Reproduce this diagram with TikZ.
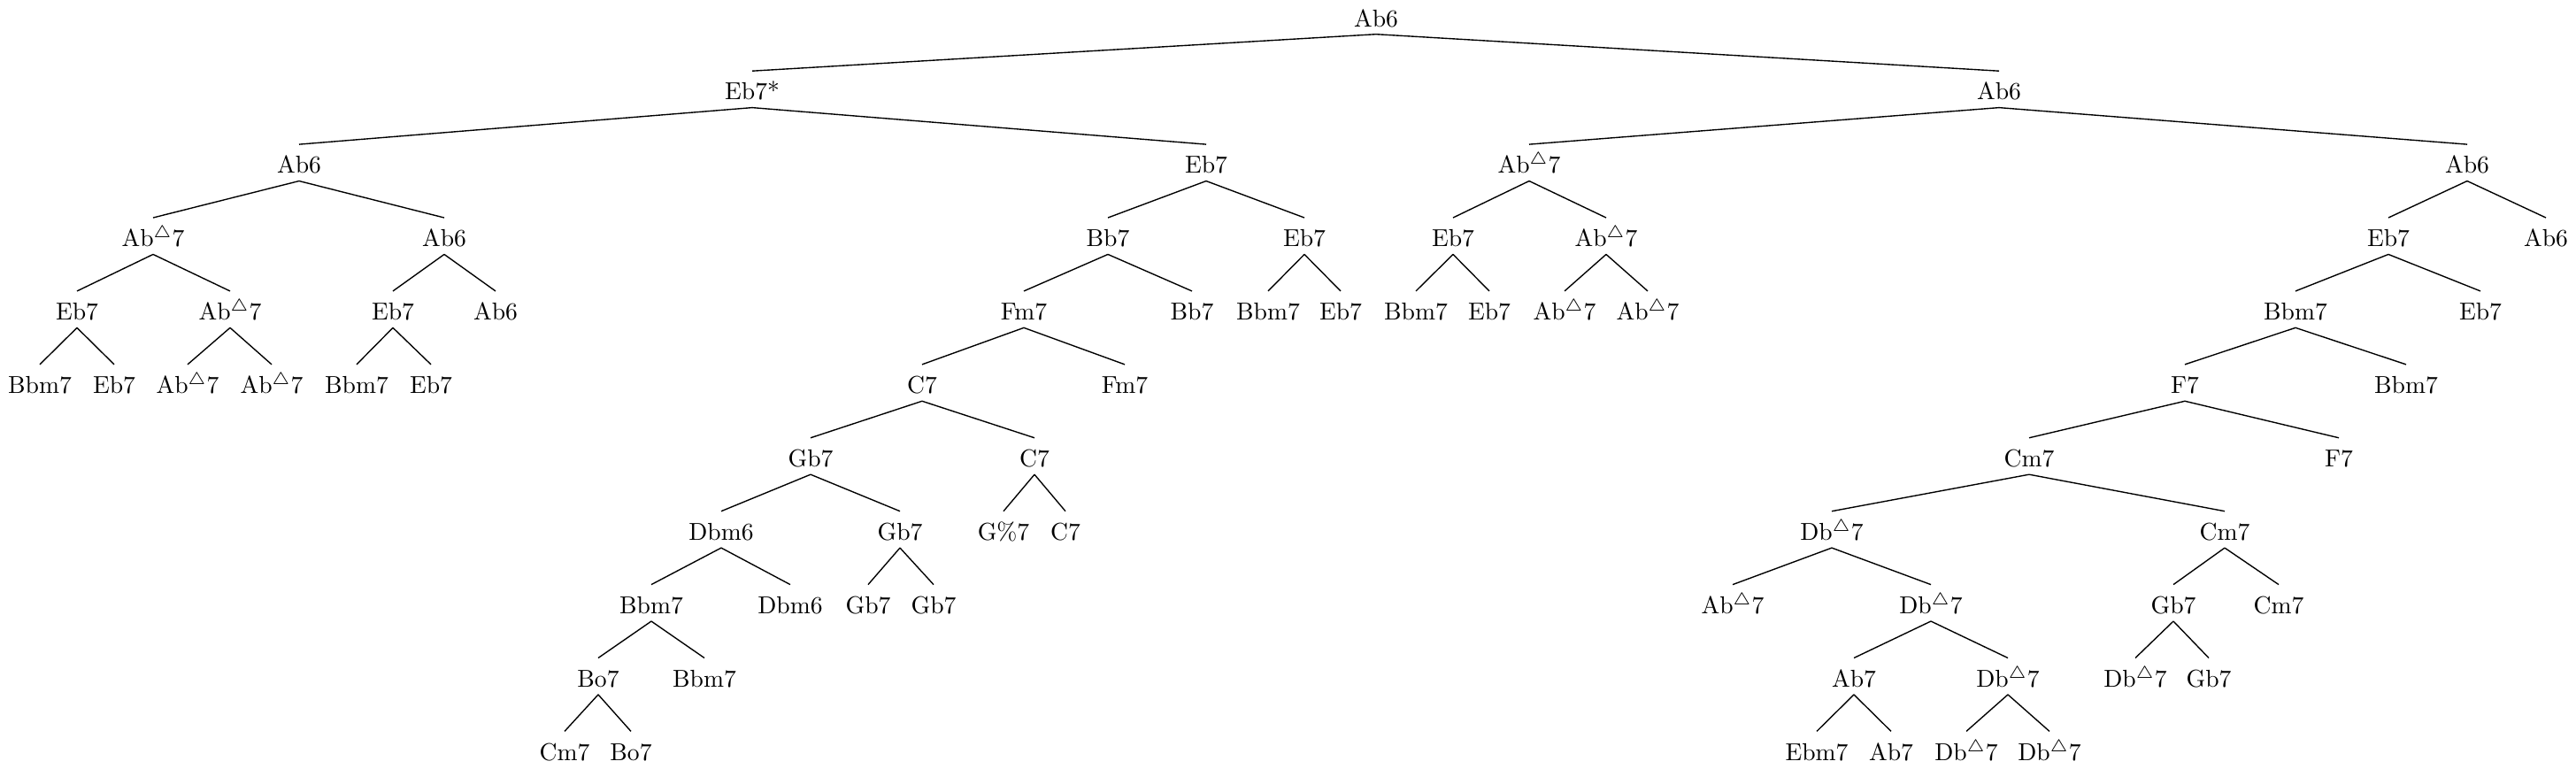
\documentclass[tikz,border=0pt]{standalone}
\usepackage{tikz}
\newcommand{\chmaj}{$^\triangle$}
\tikzset{chord/.style = {anchor=base, inner sep=0pt,
                         text height=11.6pt, text depth=2.9pt}}
\begin{document}
\begin{tikzpicture}[x=0.3623pt, y=-30.04pt, line width=0.5pt]
    \useasboundingbox (0,-0.362) rectangle (2911,10.108);
    \node [chord] (a1) at (1555,0) {Ab6};
    \foreach \nm/\up/\x/\lev/\lab in {
        b1/a1/850/1/Eb7*, b2/a1/2259/1/Ab6,
        c1/b1/338/2/Ab6, c2/b1/1363/2/Eb7, c3/b2/1728/2/Ab\chmaj7, c4/b2/2788/2/Ab6,
        d1/c1/173/3/Ab\chmaj7, d2/c1/502/3/Ab6, d3/c2/1252/3/Bb7, d4/c2/1474/3/Eb7,
        d5/c3/1642/3/Eb7, d6/c3/1815/3/Ab\chmaj7, d7/c4/2699/3/Eb7, d8/c4/2877/3/Ab6,
        e1/d1/87/4/Eb7, e2/d1/260/4/Ab\chmaj7, e3/d2/444/4/Eb7, e4/d2/560/4/Ab6,
        e5/d3/1157/4/Fm7, e6/d3/1347/4/Bb7, e7/d4/1433/4/Bbm7, e8/d4/1515/4/Eb7,
        e9/d5/1600/4/Bbm7, e10/d5/1683/4/Eb7, e11/d6/1768/4/Ab\chmaj7, e12/d6/1862/4/Ab\chmaj7,
        e13/d7/2594/4/Bbm7, e14/d7/2803/4/Eb7,
        f1/e1/45/5/Bbm7, f2/e1/129/5/Eb7, f3/e2/212/5/Ab\chmaj7, f4/e2/307/5/Ab\chmaj7,
        f5/e3/403/5/Bbm7, f6/e3/487/5/Eb7, f7/e5/1042/5/C7, f8/e5/1271/5/Fm7,
        f9/e13/2469/5/F7, f10/e13/2719/5/Bbm7,
        g1/f7/916/6/Gb7, g2/f7/1169/6/C7, g3/f9/2293/6/Cm7, g4/f9/2643/6/F7,
        h1/g1/815/7/Dbm6, h2/g1/1017/7/Gb7, h3/g2/1134/7/G\%7, h4/g2/1204/7/C7,
        h5/g3/2070/7/Db\chmaj7, h6/g3/2514/7/Cm7,
        i1/h1/736/8/Bbm7, i2/h1/893/8/Dbm6, i3/h2/981/8/Gb7, i4/h2/1055/8/Gb7,
        i5/h5/1958/8/Ab\chmaj7, i6/h5/2182/8/Db\chmaj7, i7/h6/2456/8/Gb7, i8/h6/2575/8/Cm7,
        j1/i1/676/9/Bo7, j2/i1/796/9/Bbm7, j3/i6/2095/9/Ab7, j4/i6/2269/9/Db\chmaj7,
        j5/i7/2413/9/Db\chmaj7, j6/i7/2496/9/Gb7,
        k1/j1/638/10/Cm7, k2/j1/713/10/Bo7, k3/j3/2053/10/Ebm7, k4/j3/2137/10/Ab7,
        k5/j4/2222/10/Db\chmaj7, k6/j4/2316/10/Db\chmaj7} {
      \node [chord] (\nm) at (\x,\lev) {\lab};
      \draw (\up.south) -- (\nm.north);
    }
\end{tikzpicture}
\end{document}
